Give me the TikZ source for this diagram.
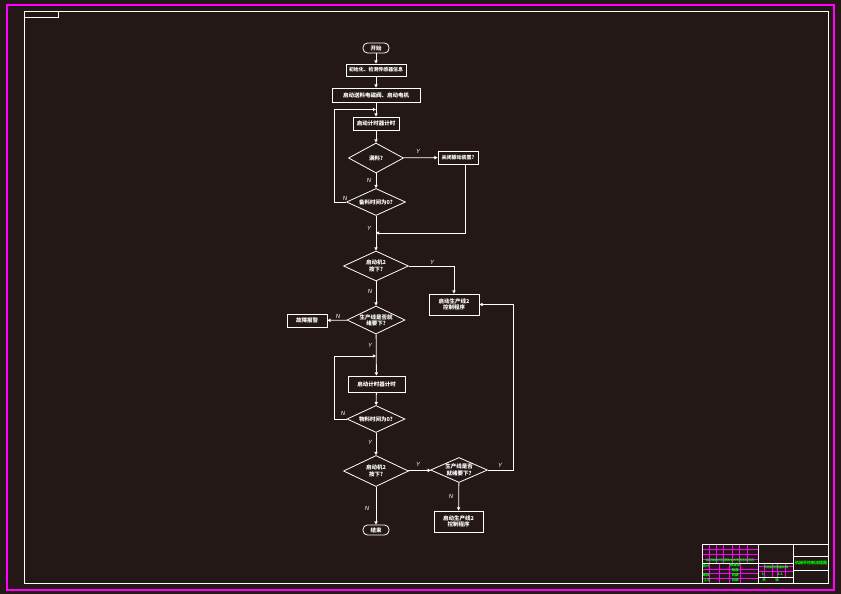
\documentclass[tikz,border=0pt]{standalone}
\usepackage{fontspec}
\setmainfont{Noto Sans CJK SC}
\newfontfamily\latf{Liberation Sans}
\usetikzlibrary{shapes.geometric,arrows.meta}
\definecolor{bg}{RGB}{35,24,21}
\definecolor{mag}{RGB}{255,0,255}
\definecolor{grn}{RGB}{0,255,0}
\tikzset{
  wl/.style={draw=white, line width=0.8pt},
  arr/.style={wl, -{Triangle[length=3.2pt,width=3.2pt]}},
  txt/.style={text=white, font=\fontsize{5.5}{6.2}\selectfont\bfseries, align=center, inner sep=0pt},
  box/.style={wl, rectangle, txt},
  dia/.style={wl, diamond, inner sep=0pt},
  term/.style={wl, rectangle, rounded corners=4.5pt, inner sep=0pt, minimum width=26pt, minimum height=10pt, txt},
  yn/.style={text=white, font=\latf\itshape\fontsize{6}{7}\selectfont, inner sep=0pt},
  mg/.style={draw=mag, line width=0.6pt},
  gt/.style={text=grn, font=\fontsize{3.5}{4}\selectfont\bfseries, inner sep=0pt},
}
\begin{document}
\begin{tikzpicture}[x=1pt,y=-1pt]
\fill[bg] (0,0) rectangle (841,594);
\useasboundingbox (0,0) rectangle (841,594);
% frames
\draw[draw=mag, line width=1.3pt] (7,5) rectangle (834,590);
\draw[wl] (24.5,11.5) rectangle (828.5,583);
\draw[wl] (24.5,11.5) rectangle (58,17);

% nodes
\node[term] (start) at (376,48) {开始};
\node[box, minimum width=60pt, minimum height=12pt, font=\fontsize{4.9}{6}\selectfont\bfseries] (b1) at (376,70) {初始化、检测传感器信息};
\node[box, minimum width=88pt, minimum height=14pt] (b2) at (376,95) {启动送料电磁阀、启动电机};
\node[box, minimum width=46pt, minimum height=13pt] (b3) at (376,123.5) {启动计时器计时};
\node[dia, minimum width=55pt, minimum height=30pt] (d1) at (376,158) {};
\node[txt] (t1) at (d1) {满料?};
\node[box, minimum width=40pt, minimum height=13pt, font=\fontsize{5}{6}\selectfont\bfseries] (b4) at (458,157.5) {关闭振动装置?};
\node[dia, minimum width=59pt, minimum height=27pt] (d2) at (376,202) {};
\node[txt] (t2) at (d2) {备料时间为0?};
\node[dia, minimum width=65pt, minimum height=30pt] (d3) at (376,266) {};
\node[txt] (t3) at (d3) {启动机2\\按下?};
\node[box, minimum width=50pt, minimum height=21pt] (b5) at (454,304.5) {启动生产线2\\控制程序};
\node[dia, minimum width=58pt, minimum height=28pt] (d4) at (376,320) {};
\node[txt] (t4) at (d4) {生产线是否就\\绪要下?};
\node[box, minimum width=40pt, minimum height=13pt] (f) at (307,320.5) {故障报警};
\node[box, minimum width=57pt, minimum height=16pt] (b6) at (376.5,384) {启动计时器计时};
\node[dia, minimum width=58pt, minimum height=27pt] (d5) at (376,419) {};
\node[txt] (t5) at (d5) {物料时间为0?};
\node[dia, minimum width=65pt, minimum height=31pt] (d6) at (376,471) {};
\node[txt] (t6) at (d6) {启动机2\\按下?};
\node[dia, minimum width=57pt, minimum height=25pt] (d7) at (459,470) {};
\node[txt] (t7) at (d7) {生产线是否\\就绪要下?};
\node[box, minimum width=49pt, minimum height=21pt] (b7) at (458.5,521.5) {启动生产线2\\控制程序};
\node[term] (end) at (376,530) {结束};

\coordinate (j1) at (376,109.5);
\coordinate (l1) at (334,109.5);
\coordinate (j2) at (376,233);
\coordinate (r1) at (465,233);
\coordinate (j3) at (376,356);
\coordinate (l3) at (334,356);
\coordinate (r2) at (513,304.5);

% connectors
\draw[arr] (start) -- (b1);
\draw[arr] (b1) -- (b2);
\draw[arr] (b2) -- (b3);
\draw[arr] (b3) -- (d1);
\draw[arr] (d1) -- (b4);
\draw[arr] (d1) -- (d2);
\draw[arr] (d2.west) -| (l1) -- (j1);
\draw[arr] (b4.south -| r1) -- (r1) -- (j2);
\draw[arr] (d2) -- (d3);
\draw[arr] (d3.east) -| (b5.north);
\draw[arr] (d3) -- (d4);
\draw[arr] (d4) -- (f);
\draw[arr] (d4) -- (b6);
\draw[arr] (b6) -- (d5);
\draw[arr] (d5.west) -| (l3) -- (j3);
\draw[arr] (d5) -- (d6);
\draw[arr] (d6) -- (d7);
\draw[arr] (d7.east) -| (r2) -- (b5.east);
\draw[arr] (d7) -- (b7);
\draw[arr] (d6) -- (end);

% labels
\node[yn] at (418,151) {Y};
\node[yn] at (369,180) {N};
\node[yn] at (345,198) {N};
\node[yn] at (369,228) {Y};
\node[yn] at (432,262) {Y};
\node[yn] at (370,291) {N};
\node[yn] at (338,316) {N};
\node[yn] at (370,345) {Y};
\node[yn] at (343,413) {N};
\node[yn] at (370,442) {Y};
\node[yn] at (418,464) {Y};
\node[yn] at (500,465) {Y};
\node[yn] at (451,496) {N};
\node[yn] at (367,508) {N};

% title block
\foreach \y in {549,554,559} \draw[mg] (702,\y) -- (758,\y);
\foreach \x in {709,716,723,732,739,747} \draw[mg] (\x,544) -- (\x,563);
\foreach \y in {569,573,578} \draw[mg] (702,\y) -- (758,\y);
\foreach \x in {709,719,729,740} \draw[mg] (\x,563) -- (\x,583);
\foreach \y in {566,571} \draw[mg] (758,\y) -- (793,\y);
\foreach \x in {764,772,777,785} \draw[mg] (\x,563) -- (\x,577);
\draw[wl] (702,544) rectangle (828.5,583);
\draw[wl] (758,544) -- (758,583);
\draw[wl] (793,544) -- (793,583);
\draw[wl] (702,563) -- (793,563);
\draw[wl] (758,577) -- (793,577);
\draw[wl] (793,556) -- (828.5,556);
\draw[wl] (793,570) -- (828.5,570);
\node[gt, font=\fontsize{3}{3.5}\selectfont\bfseries] at (730,560.5) {标记处数分区更改文件号签名年月日};
\node[gt, font=\fontsize{3}{3.5}\selectfont\bfseries] at (776,567) {阶段标记重量比例};
\node[gt, font=\fontsize{4}{5}\selectfont\bfseries] at (811,563) {机械手控制流程图};
\node[gt] at (706,566) {设计};
\node[gt] at (706,575) {审核};
\node[gt] at (707,580) {工艺};
\node[gt] at (735,565.5) {标准化};
\node[gt] at (735,570) {批准};
\node[gt] at (735,575) {日期};
\node[gt] at (735,580) {日期};
\node[gt] at (763,574) {1};
\node[gt] at (780,574) {1:1};
\node[gt] at (764,580) {共};
\node[gt] at (777,580) {张};
\end{tikzpicture}
\end{document}
